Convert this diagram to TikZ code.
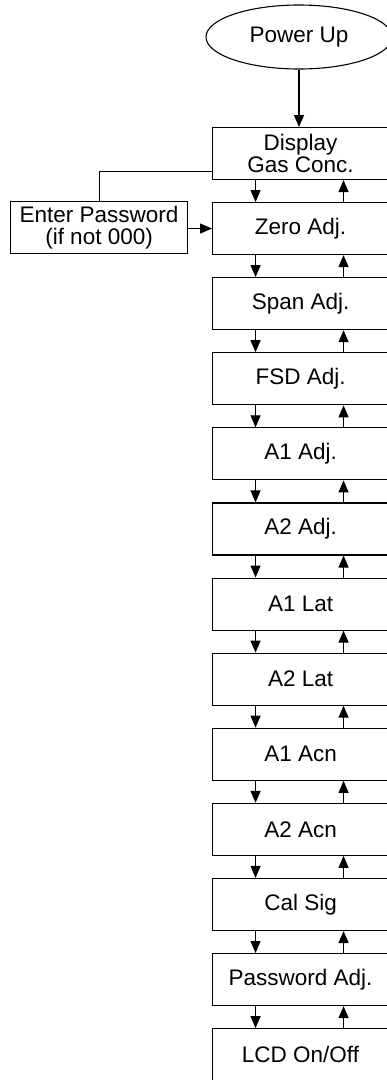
\documentclass[tikz,border=0pt]{standalone}
\usepackage{fontspec}
\setmainfont{Liberation Sans}
\usetikzlibrary{arrows.meta,shapes.geometric}
\tikzset{
  stage/.style={draw=black, line width=1.1pt, rectangle, anchor=north west,
    minimum width=176pt, minimum height=52pt, inner sep=0pt,
    align=center, font=\fontsize{22.5}{22}\selectfont},
  startnode/.style={draw=black, line width=1.1pt, ellipse, inner sep=0pt,
    minimum width=186pt, minimum height=64pt, font=\fontsize{22.5}{22}\selectfont},
  arr/.style={draw=black, line width=1.1pt, -{Triangle[length=12pt,width=10pt]}},
  link/.style={draw=black, line width=0.9pt}
}
\begin{document}
\begin{tikzpicture}[x=1pt, y=-1pt]
  \useasboundingbox (0,0) rectangle (387,1080);
  \clip (0,0) rectangle (387,1080);

  % start of the menu sequence
  \node[startnode] (pwr) at (299,37) {Power Up};
  \node[stage] (disp) at (212,127) {Display\\Gas Conc.};
  \node[stage, minimum width=177pt] (pass) at (10,201) {Enter Password\\(if not 000)};

  % menu entries, one below the other
  \foreach \name/\txt [count=\i from 0] in {
      zero/{Zero Adj.}, span/{Span Adj.}, fsd/{FSD Adj.}, aoneadj/{A1 Adj.},
      atwoadj/{A2 Adj.}, aonelat/{A1 Lat}, atwolat/{A2 Lat}, aoneacn/{A1 Acn},
      atwoacn/{A2 Acn}, calsig/{Cal Sig}, pwadj/{Password Adj.}, lcd/{LCD On/Off}} {
    \node[stage] (\name) at (212,{202+75.1*\i}) {\txt};
  }

  \draw[arr] (pwr.south) -- (pwr.south |- disp.north);
  \draw[link] ([yshift=9pt]disp.south west) -| (pass.north);
  \draw[arr] (pass.east |- zero.west) -- (zero.west);

  % down / up steps between neighbouring entries
  \foreach \a/\b in {disp/zero, zero/span, span/fsd, fsd/aoneadj,
      aoneadj/atwoadj, atwoadj/aonelat, aonelat/atwolat, atwolat/aoneacn,
      aoneacn/atwoacn, atwoacn/calsig, calsig/pwadj, pwadj/lcd} {
    \draw[arr] ([xshift=-45pt]\a.south) -- ([xshift=-45pt]\b.north);
    \draw[arr] ([xshift=43pt]\b.north) -- ([xshift=43pt]\a.south);
  }
\end{tikzpicture}
\end{document}
